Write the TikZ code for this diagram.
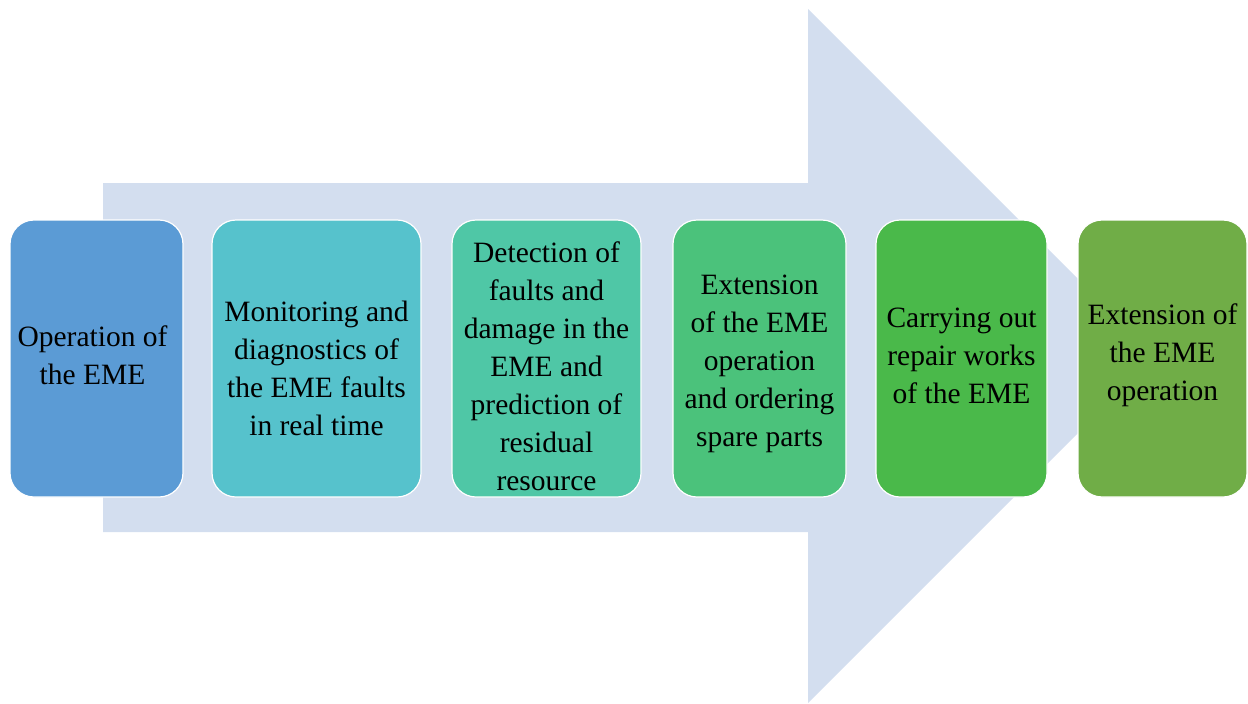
\documentclass[tikz,border=0pt]{standalone}
\usepackage{fontspec}
\setmainfont{Liberation Serif}
\definecolor{arrowc}{HTML}{D3DEEF}
\definecolor{c1}{HTML}{5B9BD5}
\definecolor{c2}{HTML}{56C2CC}
\definecolor{c3}{HTML}{4FC7A6}
\definecolor{c4}{HTML}{4BC27B}
\definecolor{c5}{HTML}{4AB94A}
\definecolor{c6}{HTML}{70AD47}
\begin{document}
\begin{tikzpicture}[x=1pt,y=-1pt,
  stagebox/.style={draw=white,line width=1.2pt,rounded corners=24pt,minimum height=277pt,inner sep=0pt},
  stagetext/.style={align=center,inner sep=0pt,font=\fontsize{29.5}{38}\selectfont,text=black}]
\useasboundingbox (0,0) rectangle (1248,704);
\fill[arrowc] (103,183) -- (808,183) -- (808,9) -- (1155,356) -- (808,703) -- (808,532) -- (103,532) -- cycle;
\node[stagebox,fill=c1,minimum width=173pt] (b1) at (96.5,358.5) {};
\node[stagebox,fill=c2,minimum width=209pt] (b2) at (316.5,358.5) {};
\node[stagebox,fill=c3,minimum width=189pt] (b3) at (546.5,358.5) {};
\node[stagebox,fill=c4,minimum width=173pt] (b4) at (759.5,358.5) {};
\node[stagebox,fill=c5,minimum width=171pt] (b5) at (961.5,358.5) {};
\node[stagebox,fill=c6,minimum width=169pt] (b6) at (1162.5,358.5) {};
\node[stagetext] (t1) at ([xshift=-4pt,yshift=3pt]b1.center) {Operation of\\the EME};
\node[stagetext] (t2) at ([yshift=-10pt]b2.center) {Monitoring and\\diagnostics of\\the EME faults\\in real time};
\node[stagetext] (t3) at ([yshift=-8pt]b3.center) {Detection of\\faults and\\damage in the\\EME and\\prediction of\\residual\\resource};
\node[stagetext] (t4) at ([yshift=-5pt]b4.center) {Extension\\of the EME\\operation\\and ordering\\spare parts};
\node[stagetext] (t5) at ([yshift=3pt]b5.center) {Carrying out\\repair works\\of the EME};
\node[stagetext] (t6) at ([yshift=3pt]b6.center) {Extension of\\the EME\\operation};
\end{tikzpicture}
\end{document}
